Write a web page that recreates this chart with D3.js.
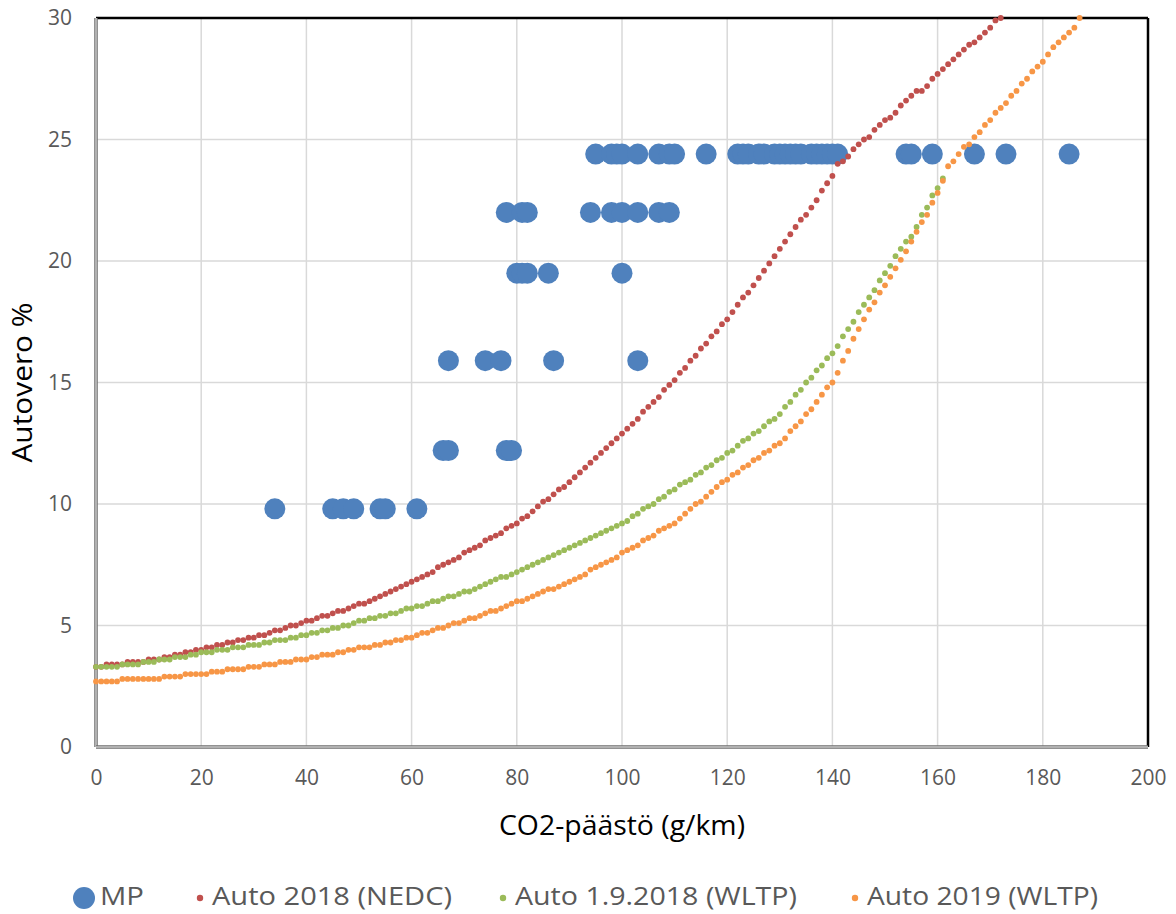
<!DOCTYPE html>
<html><head><meta charset="utf-8">
<script src="https://cdn.jsdelivr.net/npm/d3@7"></script>
<style>
html,body{margin:0;padding:0;background:#fff;}
svg{display:block;}
</style></head>
<body>
<svg id="chart" width="1176" height="914"></svg>
<script>
// ---- data (x = CO2 g/km, index starts at 0 for the tax curves) ----
const xTicks = [0,20,40,60,80,100,120,140,160,180,200];
const yTicks = [0,5,10,15,20,25,30];
const seriesNames = ["MP","Auto 2018 (NEDC)","Auto 1.9.2018 (WLTP)","Auto 2019 (WLTP)"];

const mpCo2 = [
  95,98,99,100,103,107,109,110,116,122,123,124,126,127,129,130,131,132,133,134,136,137,138,139,140,141,154,155,159,167,173,185,
  78,81,82,94,98,100,103,107,109,
  80,81,82,86,100,
  67,74,77,87,103,
  66,67,78,79,
  34,45,47,49,54,55,61];
const mpTax = [
  24.4,24.4,24.4,24.4,24.4,24.4,24.4,24.4,24.4,24.4,24.4,24.4,24.4,24.4,24.4,24.4,24.4,24.4,24.4,24.4,24.4,24.4,24.4,24.4,24.4,24.4,24.4,24.4,24.4,24.4,24.4,24.4,
  22.0,22.0,22.0,22.0,22.0,22.0,22.0,22.0,22.0,
  19.5,19.5,19.5,19.5,19.5,
  15.9,15.9,15.9,15.9,15.9,
  12.2,12.2,12.2,12.2,
  9.8,9.8,9.8,9.8,9.8,9.8,9.8];

// Auto 2018 (NEDC), one value per g/km from 0
const nedc2018 = [
  3.3,3.3,3.4,3.4,3.4,3.4,3.5,3.5,3.5,3.5,3.6,
  3.6,3.6,3.7,3.7,3.8,3.8,3.9,3.9,4.0,4.0,
  4.1,4.1,4.2,4.2,4.3,4.3,4.4,4.4,4.5,4.5,
  4.6,4.6,4.7,4.8,4.8,4.9,5.0,5.0,5.1,5.2,
  5.2,5.3,5.4,5.4,5.5,5.6,5.6,5.7,5.8,5.9,
  5.9,6.0,6.1,6.2,6.3,6.4,6.5,6.6,6.7,6.8,
  6.9,7.0,7.1,7.2,7.4,7.5,7.6,7.7,7.8,8.0,
  8.1,8.2,8.3,8.5,8.6,8.7,8.8,9.0,9.1,9.2,
  9.4,9.5,9.7,9.9,10.1,10.2,10.4,10.6,10.7,10.9,
  11.1,11.3,11.5,11.7,11.9,12.1,12.3,12.5,12.7,12.9,
  13.1,13.3,13.5,13.8,14.0,14.2,14.4,14.7,14.9,15.1,
  15.4,15.6,15.9,16.1,16.4,16.6,16.9,17.1,17.4,17.6,
  17.9,18.2,18.5,18.7,19.0,19.3,19.6,19.9,20.2,20.5,
  20.8,21.1,21.4,21.7,21.9,22.2,22.5,22.9,23.2,23.5,
  24.0,24.1,24.3,24.6,24.8,25.0,25.1,25.4,25.6,25.8,
  25.9,26.1,26.4,26.6,26.8,27.0,27.0,27.2,27.5,27.7,
  27.9,28.1,28.3,28.5,28.7,28.9,29.0,29.2,29.4,29.6,
  29.9,30.0];

// Auto 1.9.2018 (WLTP)
const wltp2018 = [
  3.3,3.3,3.3,3.3,3.3,3.4,3.4,3.4,3.4,3.5,3.5,
  3.5,3.6,3.6,3.6,3.7,3.7,3.7,3.8,3.8,3.9,
  3.9,3.9,4.0,4.0,4.0,4.1,4.1,4.1,4.2,4.2,
  4.2,4.3,4.3,4.4,4.4,4.4,4.5,4.5,4.6,4.6,
  4.7,4.7,4.8,4.8,4.9,4.9,5.0,5.0,5.1,5.2,
  5.2,5.3,5.3,5.4,5.4,5.5,5.5,5.6,5.7,5.7,
  5.8,5.8,5.9,6.0,6.0,6.1,6.2,6.2,6.3,6.4,
  6.4,6.5,6.6,6.7,6.8,6.9,7.0,7.0,7.1,7.2,
  7.3,7.4,7.5,7.6,7.7,7.8,7.9,8.0,8.1,8.2,
  8.3,8.4,8.5,8.6,8.7,8.8,8.9,9.0,9.1,9.2,
  9.3,9.5,9.6,9.8,9.9,10.0,10.2,10.3,10.5,10.6,
  10.8,10.9,11.0,11.2,11.3,11.5,11.6,11.8,11.9,12.1,
  12.2,12.4,12.6,12.7,12.9,13.0,13.2,13.4,13.5,13.7,
  14.0,14.2,14.5,14.7,15.0,15.2,15.5,15.7,16.0,16.2,
  16.5,16.9,17.2,17.5,17.9,18.2,18.5,18.8,19.2,19.5,
  19.8,20.2,20.5,20.8,21.0,21.4,21.9,22.2,22.7,23.0,
  23.4];

// Auto 2019 (WLTP)
const wltp2019 = [
  2.7,2.7,2.7,2.7,2.7,2.8,2.8,2.8,2.8,2.8,2.8,
  2.8,2.8,2.9,2.9,2.9,2.9,3.0,3.0,3.0,3.0,
  3.0,3.1,3.1,3.1,3.2,3.2,3.2,3.2,3.3,3.3,
  3.3,3.4,3.4,3.4,3.5,3.5,3.5,3.6,3.6,3.6,
  3.7,3.7,3.8,3.8,3.8,3.9,3.9,4.0,4.0,4.1,
  4.1,4.1,4.2,4.2,4.3,4.3,4.4,4.4,4.5,4.5,
  4.6,4.7,4.7,4.8,4.9,4.9,5.0,5.1,5.1,5.2,
  5.3,5.3,5.4,5.5,5.6,5.6,5.7,5.8,5.9,6.0,
  6.0,6.1,6.2,6.3,6.4,6.5,6.5,6.6,6.7,6.8,
  6.9,7.0,7.1,7.3,7.4,7.5,7.6,7.7,7.8,8.0,
  8.1,8.2,8.3,8.5,8.6,8.7,8.9,9.0,9.1,9.2,
  9.4,9.6,9.8,10.0,10.1,10.3,10.5,10.7,10.9,11.0,
  11.2,11.3,11.5,11.6,11.8,11.9,12.1,12.2,12.4,12.5,
  12.7,13.0,13.2,13.4,13.7,13.9,14.2,14.5,14.8,15.0,
  15.4,15.9,16.3,16.8,17.2,17.6,18.0,18.3,18.7,19.0,
  19.35,19.7,20.05,20.4,20.8,21.2,21.6,21.9,22.4,22.8,
  23.3,23.9,24.1,24.4,24.7,24.8,25.1,25.3,25.6,25.8,
  26.1,26.3,26.5,26.8,27.0,27.3,27.5,27.8,28.0,28.2,
  28.5,28.8,29.0,29.2,29.4,29.6,30.0];

const colors = ["#4f81bd","#c0504d","#9bbb59","#f79646"];

// ---- chart ----
const svg = d3.select("#chart");
const W = 1176, H = 914;
const m = {left:96, right:28, top:18, bottom:167};
const x = d3.scaleLinear().domain([0,200]).range([m.left, W - m.right]);
const y = d3.scaleLinear().domain([0,30]).range([H - m.bottom, m.top]);
const font = "'Open Sans', 'Noto Sans', sans-serif";

// gridlines
const grid = svg.append("g");
grid.selectAll("line.v").data(xTicks.slice(1)).join("line")
  .attr("x1", d=>x(d)).attr("x2", d=>x(d)).attr("y1", y(0)).attr("y2", y(30))
  .attr("stroke","#d9d9d9").attr("stroke-width",1.5);
grid.selectAll("line.h").data(yTicks.slice(1)).join("line")
  .attr("x1", x(0)).attr("x2", x(200)).attr("y1", d=>y(d)).attr("y2", d=>y(d))
  .attr("stroke","#d9d9d9").attr("stroke-width",1.5);

// axes (tick labels only)
const xAxis = d3.axisBottom(x).tickValues(xTicks).tickSize(0).tickPadding(23);
const gx = svg.append("g").attr("transform",`translate(0,${y(0)})`).call(xAxis);
gx.select(".domain").remove();
gx.selectAll("text").attr("font-family",font).attr("font-size",21).attr("fill","#595959");

const yAxis = d3.axisLeft(y).tickValues(yTicks).tickSize(0).tickPadding(24);
const gy = svg.append("g").attr("transform",`translate(${x(0)},0)`).call(yAxis);
gy.select(".domain").remove();
gy.selectAll("text").attr("font-family",font).attr("font-size",21).attr("fill","#595959");

// plot frame: black top/right, grey left/bottom axis lines
svg.append("line").attr("x1",x(0)).attr("x2",x(200)).attr("y1",y(30)).attr("y2",y(30))
  .attr("stroke","#000").attr("stroke-width",2.5);
svg.append("line").attr("x1",x(200)).attr("x2",x(200)).attr("y1",y(30)).attr("y2",y(0))
  .attr("stroke","#000").attr("stroke-width",2.5);
[[x(0),y(30),x(0),y(0)],[x(0),y(0),x(200),y(0)]].forEach(([a,b,c,d])=>{
  svg.append("line").attr("x1",a).attr("y1",b).attr("x2",c).attr("y2",d)
    .attr("stroke","#6e6e6e").attr("stroke-width",3.5);
  svg.append("line").attr("x1",a).attr("y1",b).attr("x2",c).attr("y2",d)
    .attr("stroke","#c8c8c8").attr("stroke-width",1.5);
});

// MP points
const mp = mpCo2.map((c,i)=>({c, t: mpTax[i]}));
svg.append("g").selectAll("circle").data(mp).join("circle")
  .attr("cx", d=>x(d.c)).attr("cy", d=>y(d.t)).attr("r",10.5)
  .attr("fill", colors[0]);

// tax curves
[nedc2018, wltp2018, wltp2019].forEach((arr, k)=>{
  svg.append("g").selectAll("circle").data(arr).join("circle")
    .attr("cx", (d,i)=>x(i)).attr("cy", d=>y(d)).attr("r",2.9)
    .attr("fill", colors[k+1]);
});

// axis titles
svg.append("text").attr("x", (x(0)+x(200))/2).attr("y", 835)
  .attr("text-anchor","middle").attr("font-family",font).attr("font-size",27)
  .attr("textLength",246).attr("lengthAdjust","spacingAndGlyphs")
  .attr("fill","#000").text("CO2-päästö (g/km)");
svg.append("text").attr("transform",`translate(32,${(y(0)+y(30))/2}) rotate(-90)`)
  .attr("text-anchor","middle").attr("font-family",font).attr("font-size",27)
  .attr("textLength",160).attr("lengthAdjust","spacingAndGlyphs")
  .attr("fill","#000").text("Autovero %");

// legend
const legX = [84, 200, 503, 855];
const legW = [44, 240, 282, 231];
const leg = svg.append("g");
seriesNames.forEach((n,i)=>{
  leg.append("circle").attr("cx", legX[i]).attr("cy", 898)
    .attr("r", i===0 ? 11 : 3.2).attr("fill", colors[i]);
  leg.append("text").attr("x", legX[i] + (i===0 ? 16 : 12)).attr("y", 905)
    .attr("font-family",font).attr("font-size",26).attr("fill","#595959")
    .attr("textLength",legW[i]).attr("lengthAdjust","spacingAndGlyphs").text(n);
});
</script>
</body></html>
